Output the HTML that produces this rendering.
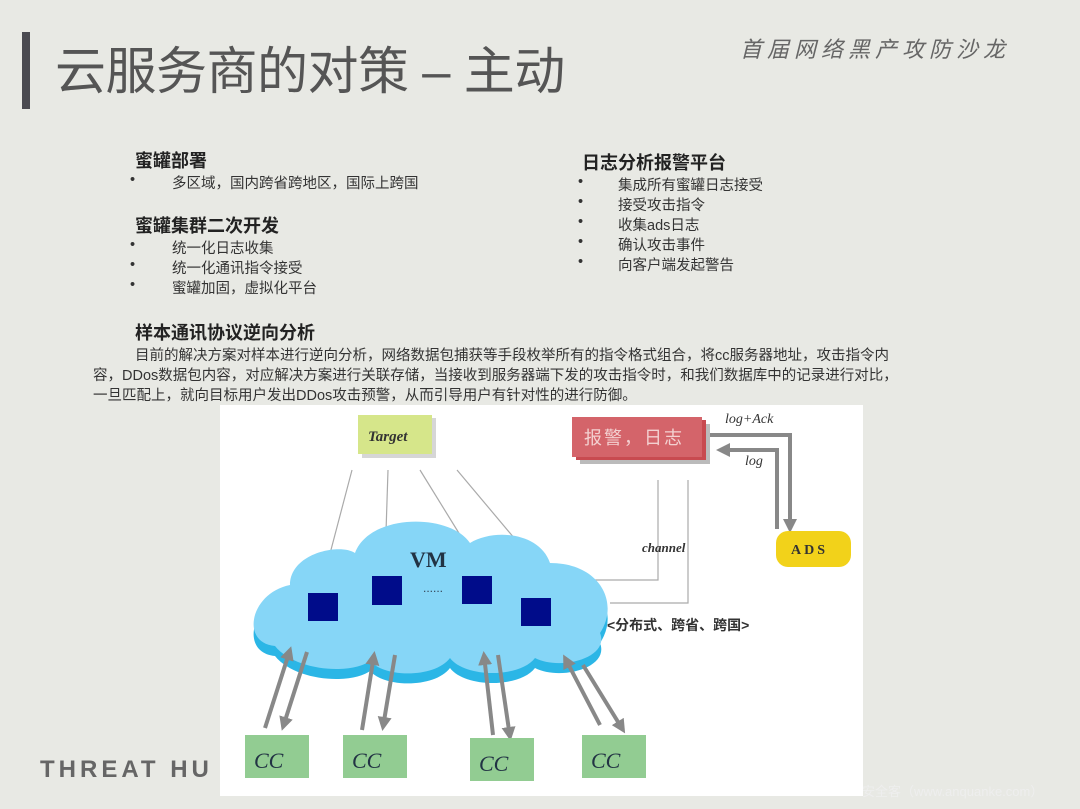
<!DOCTYPE html><html><head><meta charset="utf-8"><style>
body{margin:0;width:1080px;height:809px;background:#e8e9e4;font-family:"Liberation Sans","Noto Sans CJK SC",sans-serif;position:relative;overflow:hidden;color:#222}
.a{position:absolute;white-space:nowrap}
.h{font-weight:bold;font-size:18px;color:#222}
.b{font-size:14.5px;color:#333}
</style></head><body>
<div class="a" style="left:22px;top:32px;width:8px;height:77px;background:#4a4a50"></div>
<div class="a" style="left:55px;top:30px;font-size:51px;color:#555;letter-spacing:-0.5px">云服务商的对策 – 主动</div>
<div class="a" style="left:740px;top:32px;font-size:22px;color:#666;letter-spacing:5px;font-style:italic">首届网络黑产攻防沙龙</div>

<div class="a h" style="left:135px;top:147px">蜜罐部署</div>
<div class="a b" style="left:130px;top:172px">•</div><div class="a b" style="left:172px;top:172px">多区域，国内跨省跨地区，国际上跨国</div>
<div class="a h" style="left:135px;top:212px">蜜罐集群二次开发</div>
<div class="a b" style="left:130px;top:237px">•</div><div class="a b" style="left:172px;top:237px">统一化日志收集</div>
<div class="a b" style="left:130px;top:257px">•</div><div class="a b" style="left:172px;top:257px">统一化通讯指令接受</div>
<div class="a b" style="left:130px;top:277px">•</div><div class="a b" style="left:172px;top:277px">蜜罐加固，虚拟化平台</div>

<div class="a h" style="left:582px;top:149px">日志分析报警平台</div>
<div class="a b" style="left:578px;top:174px">•</div><div class="a b" style="left:618px;top:174px">集成所有蜜罐日志接受</div>
<div class="a b" style="left:578px;top:194px">•</div><div class="a b" style="left:618px;top:194px">接受攻击指令</div>
<div class="a b" style="left:578px;top:214px">•</div><div class="a b" style="left:618px;top:214px">收集ads日志</div>
<div class="a b" style="left:578px;top:234px">•</div><div class="a b" style="left:618px;top:234px">确认攻击事件</div>
<div class="a b" style="left:578px;top:254px">•</div><div class="a b" style="left:618px;top:254px">向客户端发起警告</div>

<div class="a h" style="left:135px;top:319px">样本通讯协议逆向分析</div>
<div class="a b" style="left:135px;top:344px">目前的解决方案对样本进行逆向分析，网络数据包捕获等手段枚举所有的指令格式组合，将cc服务器地址，攻击指令内</div>
<div class="a b" style="left:93px;top:364px">容，DDos数据包内容，对应解决方案进行关联存储，当接收到服务器端下发的攻击指令时，和我们数据库中的记录进行对比，</div>
<div class="a b" style="left:93px;top:384px">一旦匹配上，就向目标用户发出DDos攻击预警，从而引导用户有针对性的进行防御。</div>

<div class="a" style="left:40px;top:756px;font-size:24px;color:#666;letter-spacing:4px;font-weight:bold">THREAT HU</div>
<div class="a" style="left:862px;top:781px;font-size:13px;color:#eee">安全客（www.anquanke.com）</div>

<svg class="a" style="left:220px;top:405px" width="643" height="391" viewBox="0 0 643 391">
<rect width="643" height="391" fill="#fff"/>
<defs><marker id="m" markerUnits="userSpaceOnUse" markerWidth="14" markerHeight="14" refX="10" refY="7" orient="auto"><path d="M0,0L14,7L0,14Z" fill="#888"/></marker></defs>
<g stroke="#aaa" stroke-width="1.2" fill="none">
<line x1="132" y1="65" x2="107" y2="160"/><line x1="168" y1="65" x2="165" y2="158"/><line x1="200" y1="65" x2="245" y2="138"/><line x1="237" y1="65" x2="300" y2="140"/>
<polyline points="438,75 438,175 375,175"/><polyline points="468,75 468,198 390,198"/>
</g>
<g transform="translate(0,8)">
<path d="M55,243 C20,240 30,190 70,182 C70,150 120,140 135,150 C150,110 230,110 250,140 C275,125 320,130 330,160 C380,160 400,200 380,230 C390,255 340,268 315,255 C300,275 245,275 230,255 C215,275 165,275 150,258 C130,272 75,268 55,243Z" fill="#2bb6e6"/>
<path d="M55,233 C20,230 30,180 70,172 C70,140 120,130 135,140 C150,100 230,100 250,130 C275,115 320,120 330,150 C380,150 400,190 380,220 C390,245 340,258 315,245 C300,265 245,265 230,245 C215,265 165,265 150,248 C130,262 75,258 55,233Z" fill="#86d6f7"/>
</g>
<g stroke="#888" stroke-width="4" fill="none">
<polyline points="487,30 570,30 570,124" marker-end="url(#m)"/>
<polyline points="557,124 557,45 500,45" marker-end="url(#m)"/>
<line x1="45" y1="323" x2="70" y2="245" marker-end="url(#m)"/><line x1="87" y1="247" x2="63" y2="322" marker-end="url(#m)"/>
<line x1="142" y1="325" x2="154" y2="250" marker-end="url(#m)"/><line x1="175" y1="250" x2="163" y2="322" marker-end="url(#m)"/>
<line x1="273" y1="330" x2="264" y2="250" marker-end="url(#m)"/><line x1="278" y1="250" x2="290" y2="332" marker-end="url(#m)"/>
<line x1="380" y1="320" x2="345" y2="253" marker-end="url(#m)"/><line x1="363" y1="260" x2="403" y2="325" marker-end="url(#m)"/>
</g>
<text x="190" y="162" font-family="Liberation Serif" font-size="22" font-weight="bold" fill="#234">VM</text>
<text x="203" y="187" font-size="12" fill="#345">......</text>
<g fill="#000c8a"><rect x="88" y="188" width="30" height="28"/><rect x="152" y="171" width="30" height="29"/><rect x="242" y="171" width="30" height="28"/><rect x="301" y="193" width="30" height="28"/></g>
<rect x="142" y="13" width="74" height="40" fill="#999" opacity=".4"/>
<rect x="138" y="10" width="74" height="39" fill="#d6e68a"/>
<text x="148" y="36" font-family="Liberation Serif" font-style="italic" font-weight="bold" font-size="15" fill="#333">Target</text>
<rect x="360" y="19" width="130" height="40" fill="#bbb"/>
<rect x="356" y="15" width="130" height="40" fill="#c84a50"/>
<rect x="352" y="12" width="130" height="40" fill="#d4646a"/>
<text x="364" y="39" font-size="18" fill="#f3d0d0" letter-spacing="2">报警，日志</text>
<text x="505" y="18" font-family="Liberation Serif" font-style="italic" font-size="14" fill="#333">log+Ack</text>
<text x="525" y="60" font-family="Liberation Serif" font-style="italic" font-size="14" fill="#333">log</text>
<text x="422" y="147" font-family="Liberation Serif" font-style="italic" font-weight="bold" font-size="13" fill="#333">channel</text>
<rect x="556" y="126" width="75" height="36" rx="12" fill="#f2d21a"/>
<text x="571" y="149" font-family="Liberation Serif" font-weight="bold" font-size="14" fill="#333" letter-spacing="3">ADS</text>
<text x="387" y="225" font-size="14" font-weight="bold" fill="#333">&lt;分布式、跨省、跨国&gt;</text>
<g fill="#92cc92"><rect x="25" y="330" width="64" height="43"/><rect x="123" y="330" width="64" height="43"/><rect x="250" y="333" width="64" height="43"/><rect x="362" y="330" width="64" height="43"/></g>
<g font-family="Liberation Serif" font-style="italic" font-size="22" fill="#234"><text x="34" y="363">CC</text><text x="132" y="363">CC</text><text x="259" y="366">CC</text><text x="371" y="363">CC</text></g>
</svg>
</body></html>
